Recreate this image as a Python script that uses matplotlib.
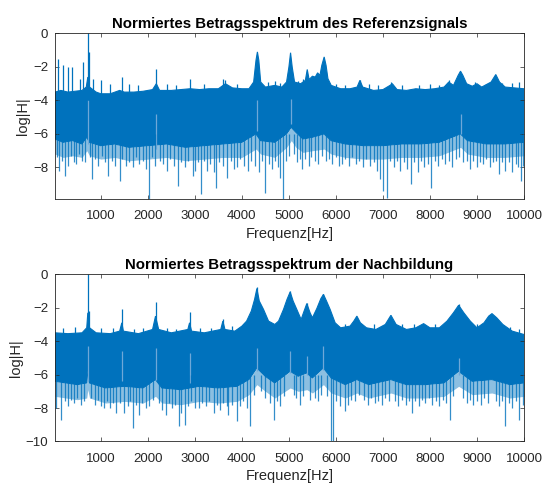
import numpy as np
import matplotlib
matplotlib.use("Agg")
import matplotlib.pyplot as plt

plt.rcParams['font.family'] = ['Liberation Sans', 'DejaVu Sans']

# ---------------------------------- data ----------------------------------
# Referenzsignal: upper / lower edge of the dense band
ref_top_f = [25, 150, 300, 450, 600, 690, 723, 760, 900, 1000, 1200, 1400, 1500, 1700, 1900, 2100, 2180, 2250,
             2500, 2700, 2900, 3100, 3300, 3500, 3650, 3800, 4000, 4150, 4250, 4300, 4330, 4360, 4400, 4500,
             4700, 4850, 4950, 5000, 5035, 5070, 5120, 5250, 5350, 5390, 5430, 5500, 5560, 5610, 5660, 5700,
             5750, 5790, 5830, 5900, 6100, 6300, 6450, 6510, 6570, 6800, 7000, 7150, 7200, 7300, 7500, 7700,
             7900, 8100, 8300, 8400, 8500, 8600, 8650, 8700, 8780, 8900, 9000, 9100, 9300, 9400, 9480, 9600,
             9800, 10000]
ref_top_v = [-3.5, -3.4, -3.5, -3.45, -3.4, -3.2, -2.6, -3.2, -3.5, -3.6, -3.6, -3.4, -3.5, -3.5, -3.45, -3.35,
             -3.0, -3.4, -3.4, -3.35, -3.3, -3.35, -3.3, -3.3, -3.0, -3.25, -3.3, -3.3, -2.9, -1.6, -1.1, -1.6,
             -2.9, -3.2, -3.1, -3.2, -2.9, -2.0, -1.15, -2.0, -2.9, -3.0, -2.8, -2.15, -2.75, -2.55, -2.6, -2.35,
             -2.5, -1.9, -1.4, -1.9, -2.7, -3.1, -3.3, -3.3, -3.2, -2.8, -3.2, -3.4, -3.35, -3.1, -3.0, -3.35,
             -3.4, -3.3, -3.35, -3.3, -3.2, -2.9, -3.1, -2.5, -2.25, -2.5, -3.0, -3.15, -3.0, -3.2, -2.9, -2.45,
             -2.9, -3.2, -3.25, -3.3]
ref_bot_f = [25, 200, 400, 600, 700, 760, 1000, 1300, 1600, 2000, 2400, 2800, 3200, 3600, 4000, 4300, 4400,
             4700, 4950, 5050, 5150, 5300, 5500, 5750, 5900, 6200, 6600, 7000, 7400, 7800, 8200, 8650, 8800,
             9200, 9600, 10000]
ref_bot_v = [-6.3, -6.5, -6.4, -6.6, -6.2, -6.5, -6.7, -6.6, -6.8, -6.7, -6.6, -6.8, -6.7, -6.6, -6.5, -6.0,
             -6.4, -6.5, -6.0, -5.6, -5.9, -6.3, -6.2, -6.0, -6.4, -6.6, -6.7, -6.7, -6.6, -6.6, -6.5, -6.0,
             -6.4, -6.6, -6.6, -6.5]
# looser fringe of lines below the solid band (same frequencies as ref_bot_f)
ref_fringe_v = [-7.2, -7.4, -7.3, -7.4, -7.0, -7.3, -7.5, -7.4, -7.6, -7.5, -7.4, -7.6, -7.5, -7.4, -7.4, -6.9,
                -7.2, -7.4, -6.8, -6.4, -6.8, -7.1, -7.0, -6.9, -7.2, -7.4, -7.5, -7.5, -7.4, -7.4, -7.3, -6.8,
                -7.2, -7.4, -7.4, -7.3]
ref_up_f = [99, 205, 297, 389, 560, 630, 723, 751, 843, 999, 1200, 1446, 1600, 1800, 2177, 2400, 2600, 2900,
            3200, 3593, 3643, 3900, 4550, 4700, 4800, 5200, 5300, 6000, 6200, 6507, 6700, 6900, 7176, 7400,
            7774, 8000, 8200, 8408, 8957, 9200, 9534, 9750, 9900]
ref_up_v = [-1.5, -1.9, -2.0, -2.0, -2.7, -1.7, 0.0, -1.1, -2.7, -2.8, -3.0, -2.6, -3.0, -3.05, -2.1, -3.0,
            -3.05, -2.7, -3.0, -2.7, -2.8, -3.0, -2.9, -2.85, -2.95, -2.85, -2.7, -3.0, -3.05, -2.75, -3.0,
            -3.1, -2.9, -3.1, -3.1, -3.0, -3.05, -2.8, -2.9, -3.0, -2.95, -2.95, -2.9]
ref_down_f = [63, 120, 180, 241, 300, 360, 420, 475, 540, 600, 666, 760, 808, 880, 950, 1020, 1090, 1162,
              1230, 1300, 1397, 1460, 1530, 1600, 1680, 1750, 1820, 1900, 1960, 2021, 2090, 2150, 2250, 2320,
              2404, 2480, 2560, 2631, 2700, 2780, 2850, 2957, 3000, 3060, 3122, 3200, 3260, 3330, 3400, 3450,
              3520, 3600, 3679, 3760, 3830, 3893, 3960, 4050, 4120, 4200, 4280, 4357, 4430, 4500, 4570, 4640,
              4700, 4760, 4807, 4878, 4940, 5000, 5100, 5180, 5230, 5285, 5350, 5420, 5480, 5550, 5620, 5700,
              5780, 5850, 5920, 6000, 6060, 6120, 6200, 6280, 6350, 6430, 6500, 6580, 6650, 6720, 6800, 6870,
              6930, 7000, 7092, 7160, 7230, 7300, 7370, 7450, 7520, 7598, 7670, 7740, 7800, 7880, 7950, 8021,
              8100, 8170, 8250, 8330, 8400, 8470, 8550, 8620, 8700, 8780, 8850, 8920, 8990, 9060, 9130, 9200,
              9270, 9340, 9400, 9464, 9530, 9600, 9680, 9745, 9820, 9880, 9930, 9980]
ref_down_v = [-7.4, -8.2, -7.6, -8.5, -7.9, -7.3, -7.7, -7.8, -7.2, -7.6, -7.7, -7.4, -8.7, -7.5, -7.9, -7.3,
              -7.7, -8.5, -7.6, -7.9, -8.8, -7.5, -7.9, -7.7, -8.0, -7.4, -7.8, -7.6, -8.1, -9.9, -7.4, -7.9,
              -7.6, -7.8, -8.2, -7.5, -7.9, -9.1, -7.7, -8.0, -7.6, -8.5, -8.2, -7.7, -9.6, -7.6, -8.2, -7.8,
              -8.3, -9.2, -7.7, -7.9, -8.6, -7.6, -8.1, -8.0, -7.5, -7.9, -8.2, -7.6, -7.9, -8.3, -7.6, -9.5,
              -7.8, -8.1, -7.6, -8.0, -8.6, -9.9, -7.6, -7.3, -7.2, -7.7, -7.5, -8.1, -7.5, -7.9, -7.4, -7.6,
              -7.8, -7.3, -7.6, -7.5, -7.8, -7.4, -7.9, -7.8, -7.5, -7.9, -7.4, -7.8, -7.6, -8.0, -7.5, -7.9,
              -7.7, -8.2, -8.7, -9.4, -9.8, -7.6, -8.0, -7.6, -8.2, -7.7, -8.1, -9.0, -7.7, -8.3, -7.6, -8.0,
              -7.8, -9.2, -7.6, -7.9, -7.5, -7.8, -7.6, -8.0, -7.5, -7.4, -7.7, -7.6, -8.1, -7.6, -8.0, -7.7,
              -7.8, -7.5, -8.0, -7.7, -7.6, -8.4, -7.7, -8.2, -7.7, -8.3, -7.8, -8.0, -8.8, -7.9]
ref_light_f = [723, 2177, 4330, 5040, 8650]
ref_light_top = [-4.0, -4.8, -4.0, -3.9, -4.8]
ref_light_bot = [-6.6, -6.9, -5.8, -5.4, -6.0]

# Nachbildung
nb_top_f = [25, 300, 600, 700, 723, 760, 900, 1200, 1400, 1446, 1480, 1800, 2100, 2163, 2230, 2500, 2850,
            2887, 2930, 3200, 3550, 3595, 3640, 3850, 4000, 4100, 4200, 4270, 4319, 4370, 4460, 4567, 4700,
            4780, 4885, 4960, 5027, 5090, 5168, 5260, 5310, 5381, 5450, 5500, 5593, 5680, 5735, 5800, 5877,
            5983, 6100, 6300, 6380, 6446, 6520, 6650, 6850, 7050, 7170, 7280, 7500, 7700, 7865, 8000, 8200,
            8362, 8500, 8610, 8720, 8858, 9000, 9150, 9250, 9319, 9420, 9550, 9750, 10000]
nb_top_v = [-3.5, -3.55, -3.5, -3.2, -2.3, -3.2, -3.5, -3.55, -3.4, -2.9, -3.4, -3.55, -3.3, -2.5, -3.3, -3.5,
            -3.3, -2.9, -3.4, -3.5, -3.3, -2.8, -3.3, -3.4, -3.1, -2.8, -2.2, -1.5, -0.85, -1.6, -2.1, -2.8,
            -3.0, -2.8, -2.1, -1.5, -1.05, -1.6, -2.1, -2.7, -2.3, -1.75, -2.3, -2.6, -2.05, -1.45, -1.2, -1.6,
            -2.1, -2.9, -3.2, -3.1, -2.8, -2.5, -2.9, -3.2, -3.3, -3.0, -2.45, -3.0, -3.3, -3.2, -2.95, -3.2,
            -3.2, -2.8, -2.3, -1.85, -2.3, -2.8, -3.2, -2.9, -2.5, -2.35, -2.6, -3.0, -3.4, -3.6]
nb_bot_f = [25, 500, 700, 723, 760, 1100, 1500, 1900, 2163, 2300, 2700, 3100, 3500, 3900, 4150, 4319, 4500,
            4700, 5027, 5200, 5381, 5500, 5735, 5900, 6200, 6446, 6700, 7170, 7500, 7900, 8300, 8610, 8900,
            9319, 9700, 10000]
nb_bot_v = [-6.4, -6.6, -6.5, -5.8, -6.5, -6.8, -6.7, -6.8, -6.3, -6.8, -6.9, -6.7, -6.8, -6.7, -6.3, -5.6,
            -6.1, -6.5, -5.8, -6.1, -5.9, -6.2, -5.6, -6.2, -6.6, -6.3, -6.6, -6.3, -6.6, -6.6, -6.5, -5.8,
            -6.4, -6.3, -6.6, -6.5]
nb_fringe_v = [-7.3, -7.5, -7.4, -6.9, -7.4, -7.7, -7.6, -7.7, -7.3, -7.7, -7.8, -7.6, -7.7, -7.6, -7.2, -6.6,
               -7.0, -7.4, -6.8, -7.0, -6.9, -7.1, -6.6, -7.1, -7.4, -7.1, -7.4, -7.1, -7.4, -7.4, -7.3, -6.7,
               -7.2, -7.1, -7.4, -7.3]
nb_up_f = [723, 751, 1446, 2163, 2887, 3595, 4319, 5027, 5381, 5735, 8610, 200, 450, 1000, 1250, 1700, 1900,
           2400, 2600, 3100, 3350, 3800, 6200, 6800, 7400, 7650, 8100, 9000, 9700, 9900]
nb_up_v = [0.0, -2.2, -2.05, -1.65, -2.25, -2.7, -0.75, -1.0, -1.7, -1.15, -1.8, -3.2, -3.15, -3.2, -3.2,
           -3.25, -3.2, -3.2, -3.25, -3.2, -3.2, -3.1, -2.95, -3.0, -3.0, -2.95, -2.95, -2.95, -3.15, -3.25]
nb_down_f = [49, 155, 230, 300, 370, 430, 500, 570, 640, 800, 870, 940, 1000, 1060, 1130, 1200, 1260, 1330,
             1400, 1500, 1570, 1630, 1681, 1750, 1820, 1880, 1950, 2020, 2100, 2230, 2300, 2380, 2450, 2520,
             2580, 2652, 2710, 2780, 2850, 2920, 3000, 3077, 3150, 3230, 3300, 3397, 3460, 3530, 3600, 3680,
             3715, 3800, 3892, 3960, 4030, 4100, 4177, 4250, 4400, 4500, 4600, 4673, 4750, 4820, 4900, 5100,
             5150, 5230, 5300, 5450, 5550, 5620, 5680, 5800, 5899, 5935, 6000, 6080, 6188, 6260, 6320, 6400,
             6500, 6600, 6680, 6750, 6830, 6900, 6980, 7050, 7130, 7250, 7320, 7400, 7480, 7550, 7616, 7690,
             7760, 7830, 7900, 7980, 8050, 8120, 8200, 8280, 8350, 8418, 8500, 8700, 8780, 8850, 8920, 9000,
             9080, 9150, 9230, 9400, 9470, 9540, 9603, 9680, 9750, 9830, 9900, 9970]
nb_down_v = [-8.0, -8.7, -7.6, -7.9, -7.5, -7.7, -7.4, -7.8, -7.6, -7.4, -7.8, -7.5, -7.9, -8.0, -7.6, -8.0,
             -7.7, -8.3, -7.7, -8.3, -7.9, -7.6, -9.2, -7.8, -8.4, -7.7, -8.0, -7.9, -7.5, -7.7, -8.1, -8.4,
             -7.7, -8.0, -7.8, -9.1, -8.3, -9.0, -7.9, -7.6, -8.0, -8.0, -7.7, -7.9, -7.6, -8.3, -7.8, -8.1,
             -7.7, -7.9, -8.4, -7.8, -8.8, -7.9, -7.6, -8.0, -9.1, -7.2, -7.0, -7.4, -7.7, -8.7, -7.6, -7.9,
             -7.3, -7.2, -7.4, -7.8, -7.3, -7.5, -7.4, -7.6, -7.2, -7.3, -10.0, -10.0, -7.6, -7.9, -8.2, -7.8,
             -7.5, -7.6, -7.2, -7.5, -7.8, -7.4, -7.7, -7.6, -7.8, -7.4, -7.6, -7.6, -7.9, -7.5, -7.8, -7.6,
             -8.3, -7.6, -7.9, -7.5, -7.7, -7.4, -7.8, -7.6, -7.9, -7.5, -7.7, -8.7, -7.3, -7.4, -7.7, -7.5,
             -7.8, -7.6, -7.8, -7.4, -7.7, -7.6, -7.9, -7.6, -9.1, -7.7, -8.0, -7.6, -8.7, -7.8]
nb_light_f = [723, 1446, 2163, 2887, 4319, 5027, 5381, 5735, 8610]
nb_light_top = [-4.3, -4.6, -4.4, -4.7, -4.4, -4.6, -4.9, -4.3, -5.0]
nb_light_bot = [-6.4, -6.4, -6.3, -6.5, -5.8, -5.9, -6.0, -5.7, -6.0]

x_ticks = [1000, 2000, 3000, 4000, 5000, 6000, 7000, 8000, 9000, 10000]

blue = '#0072BD'
light = '#6FA8D8'
axcol = '#262626'


def plot_spectrum(ax, top_f, top_v, bot_f, bot_v, fringe_v, up_f, up_v, down_f, down_v,
                  light_f, light_top, light_bot, title, ymin, yticks):
    # looser fringe below the band
    ax.fill_between(bot_f, fringe_v, bot_v, color=blue, alpha=0.45, lw=0)
    # dense band as one polygon: upper edge forwards, lower edge backwards
    xs = np.r_[top_f, bot_f[::-1]]
    ys = np.r_[top_v, bot_v[::-1]]
    ax.fill(xs, ys, color=blue, lw=0.8, edgecolor=blue)
    ax.vlines(light_f, light_bot, light_top, color=light, lw=0.9)
    ax.vlines(up_f, -4.0, up_v, color=blue, lw=0.9)
    ax.vlines(down_f, down_v, -6.0, color=blue, lw=0.9, alpha=0.8)

    ax.set_xlim(25, 10000)
    ax.set_ylim(ymin, 0)
    ax.set_xticks(x_ticks)
    ax.set_yticks(yticks)
    ax.set_title(title, fontsize=10.8, fontweight='bold', pad=4)
    ax.set_xlabel("Frequenz[Hz]", fontsize=10.5, color=axcol, labelpad=3)
    ax.set_ylabel("log|H|", fontsize=10.5, color=axcol, labelpad=2)
    ax.tick_params(direction='in', top=True, right=True, length=3, width=0.5,
                   labelsize=9.5, colors=axcol)
    ax.tick_params(axis='x', pad=8)
    ax.tick_params(axis='y', pad=5)
    for s in ax.spines.values():
        s.set_color(axcol)
        s.set_linewidth(0.6)


fig = plt.figure(figsize=(5.43, 4.88), dpi=100)
ax1 = fig.add_axes([0.1013, 0.5916, 0.8637, 0.3398])
ax2 = fig.add_axes([0.1013, 0.0953, 0.8637, 0.3426])

plot_spectrum(ax1, ref_top_f, ref_top_v, ref_bot_f, ref_bot_v, ref_fringe_v, ref_up_f, ref_up_v,
              ref_down_f, ref_down_v, ref_light_f, ref_light_top, ref_light_bot,
              "Normiertes Betragsspektrum des Referenzsignals", -9.9, [-8, -6, -4, -2, 0])
plot_spectrum(ax2, nb_top_f, nb_top_v, nb_bot_f, nb_bot_v, nb_fringe_v, nb_up_f, nb_up_v,
              nb_down_f, nb_down_v, nb_light_f, nb_light_top, nb_light_bot,
              "Normiertes Betragsspektrum der Nachbildung", -10, [-10, -8, -6, -4, -2, 0])

fig.savefig("out.png", dpi=100)
